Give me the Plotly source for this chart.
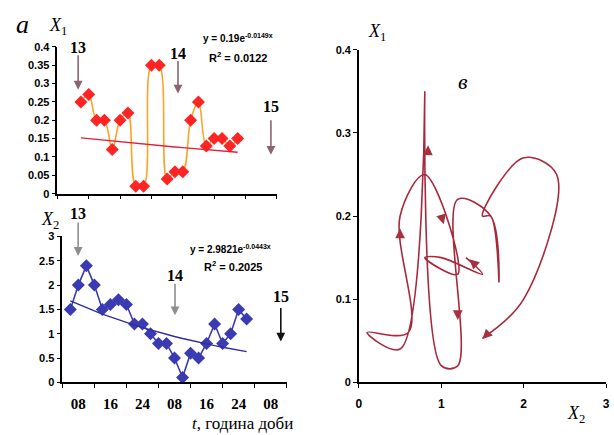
import numpy as np
import plotly.graph_objects as go

W, H = 614, 435

# ---- data ----
hours_x1 = [6, 8, 10, 12, 14, 16, 18, 20, 22, 24, 26, 28, 30, 32, 34, 36, 38, 40, 42, 44, 46]
x1_values = [0.25, 0.27, 0.20, 0.20, 0.12, 0.20, 0.22, 0.02, 0.02, 0.35, 0.35,
             0.04, 0.06, 0.06, 0.20, 0.25, 0.13, 0.15, 0.15, 0.13, 0.15]
hours_x2 = [2, 4, 6, 8, 10, 12, 14, 16, 18, 20, 22, 24, 26, 28, 30, 32, 34, 36, 38, 40, 42, 44, 46]
x2_values = [1.5, 2.0, 2.4, 2.0, 1.5, 1.6, 1.7, 1.6, 1.2, 1.2, 1.0, 0.8, 0.8,
             0.5, 0.1, 0.6, 0.5, 0.8, 1.2, 0.8, 1.0, 1.5, 1.3]
# X1 values at the two earliest hours (only visible in the phase portrait)
x1_early = [0.053, 0.10]

bottom_tick_pos = [4, 12, 20, 28, 36, 44, 52]
bottom_tick_text = ["08", "16", "24", "08", "16", "24", "08"]
boundary_ticks = [0, 8, 16, 24, 32, 40, 48, 56]

eq1 = ("y = 0.19e<sup>-0.0149x</sup>", "R<sup>2</sup> = 0.0122")
eq2 = ("y = 2.9821e<sup>-0.0443x</sup>", "R<sup>2</sup> = 0.2025")
day_labels = ["13", "14", "15"]


def exp_fit(t, y):
    t = np.asarray(t, float)
    b, a = np.polyfit(t, np.log(np.asarray(y, float)), 1)
    return [float(np.exp(a + b * v)) for v in t]


def P(x, y):
    return x / W, 1 - y / H


fig = go.Figure()

# top-left: X1
fig.add_trace(go.Scatter(x=hours_x1, y=x1_values, mode="lines+markers",
                         line=dict(color="#FFA326", width=1.6, shape="spline", smoothing=1.0),
                         marker=dict(symbol="diamond", size=10, color="#FF2424"),
                         xaxis="x", yaxis="y", cliponaxis=False))
tr1 = exp_fit(hours_x1, x1_values)
fig.add_trace(go.Scatter(x=hours_x1, y=tr1, mode="lines",
                         line=dict(color="#E3203A", width=1.3),
                         xaxis="x", yaxis="y"))

# bottom-left: X2
fig.add_trace(go.Scatter(x=hours_x2, y=x2_values, mode="lines+markers",
                         line=dict(color="#3A3AB2", width=1.6),
                         marker=dict(symbol="diamond", size=10, color="#3A3AB2"),
                         xaxis="x2", yaxis="y2", cliponaxis=False))
tr2 = exp_fit(hours_x2, x2_values)
fig.add_trace(go.Scatter(x=hours_x2, y=tr2, mode="lines",
                         line=dict(color="#2E2E9E", width=1.4),
                         xaxis="x2", yaxis="y2"))

# right: phase portrait X1 vs X2
phase_x1 = x1_early + x1_values
fig.add_trace(go.Scatter(x=x2_values, y=phase_x1, mode="lines",
                         line=dict(color="#A8283C", width=1.6, shape="spline", smoothing=1.0),
                         xaxis="x3", yaxis="y3"))

tickfont = dict(family="Liberation Sans", size=11, color="black", weight="bold")
axcommon = dict(showline=True, linecolor="black", linewidth=1.5, showgrid=False,
                zeroline=False, ticks="outside", ticklen=4, tickcolor="black")

fig.update_layout(
    width=W, height=H, margin=dict(l=0, r=0, t=0, b=0),
    paper_bgcolor="white", plot_bgcolor="white", showlegend=False,
    xaxis=dict(domain=[55 / W, 277 / W], range=[0, 56], tickvals=boundary_ticks,
               showticklabels=False, anchor="y", **axcommon),
    yaxis=dict(domain=[1 - 193 / H, 1 - 42 / H], range=[0, 0.4], dtick=0.05,
               anchor="x", tickfont=tickfont, **axcommon),
    xaxis2=dict(domain=[60 / W, 287 / W], range=[0, 56], tickvals=bottom_tick_pos,
                ticktext=bottom_tick_text, anchor="y2",
                showline=True, linecolor="black", linewidth=1.5, showgrid=False,
                zeroline=False, ticks="", ticklabelstandoff=7,
                tickfont=dict(family="Liberation Serif", size=15, color="black", weight="bold"),
                minor=dict(tickvals=boundary_ticks, ticks="outside", ticklen=4, tickcolor="black")),
    yaxis2=dict(domain=[1 - 387 / H, 1 - 237 / H], range=[0, 3], dtick=0.5,
                anchor="x2", tickfont=tickfont, **axcommon),
    xaxis3=dict(domain=[360 / W, 610 / W], range=[0, 3], dtick=1, anchor="y3",
                ticklabelstandoff=6, tickfont=dict(family="Liberation Sans", size=12,
                                                   color="black", weight="bold"), **axcommon),
    yaxis3=dict(domain=[1 - 387 / H, 1 - 45 / H], range=[0, 0.4], dtick=0.1,
                anchor="x3", tickfont=tickfont, **axcommon),
)

ann = []


def label(x, y, text, size=16, family="Liberation Serif", weight="normal", italic=False):
    px_, py_ = P(x, y)
    ann.append(dict(x=px_, y=py_, xref="paper", yref="paper", text=text, showarrow=False,
                    font=dict(family=family, size=size, color="black", weight=weight,
                              style="italic" if italic else "normal"),
                    xanchor="center", yanchor="middle"))


def day_arrow(x, y_tail, y_tip, color):
    px_, py_ = P(x, y_tip)
    ann.append(dict(x=px_, y=py_, xref="paper", yref="paper", text="", showarrow=True,
                    ax=0, ay=-(y_tip - y_tail), arrowhead=2, arrowsize=1.1, arrowwidth=1.6,
                    arrowcolor=color))


label(20, 19, "а", size=26, italic=True)
label(56, 21, "<i>X</i><sub>1</sub>", size=18)
label(48, 221, "<i>X</i><sub>2</sub>", size=18)
label(242, 429, "<i>t</i>, година доби", size=17)
label(378, 27, "<i>X</i><sub>1</sub>", size=18)
label(465, 78, "в", size=22, italic=True)
label(580, 420, "<i>X</i><sub>2</sub>", size=18)

label(238, 33, eq1[0], size=10, family="Liberation Sans", weight="bold")
label(238, 52, eq1[1], size=11, family="Liberation Sans", weight="bold")
label(230, 250, eq2[0], size=10, family="Liberation Sans", weight="bold")
label(233, 267, eq2[1], size=11, family="Liberation Sans", weight="bold")

day_marks = [(76, 43, 50, 86, "#8A6474", 0), (177, 49, 56, 90, "#8A6474", 1),
             (271, 103, 117, 153, "#8A6474", 2),
             (76, 213, 222, 257, "#8E8E8E", 0), (174, 277, 285, 318, "#8E8E8E", 1),
             (281, 299, 310, 345, "#111111", 2)]
for (x, ty, y0, y1, c, k) in day_marks:
    label(x, ty, day_labels[k], size=16, weight="bold")
    day_arrow(x, y0, y1, c)

# direction arrowheads on the phase trajectory (tail -> tip, data coordinates)
phase_arrows = [((0.838, 0.278), (0.84, 0.285)), ((0.50, 0.178), (0.50, 0.185)),
                ((1.20, 0.082), (1.20, 0.075)), ((1.01, 0.197), (1.03, 0.19)),
                ((1.43, 0.140), (1.34, 0.148)), ((1.59, 0.061), (1.50, 0.052))]
for (tx, ty), (hx, hy) in phase_arrows:
    ann.append(dict(x=hx, y=hy, xref="x3", yref="y3", ax=tx, ay=ty, axref="x3", ayref="y3",
                    text="", showarrow=True, arrowhead=2, arrowsize=1.4, arrowwidth=1.4,
                    arrowcolor="#A8303F"))

fig.update_layout(annotations=ann)
fig.write_html("out.html")
